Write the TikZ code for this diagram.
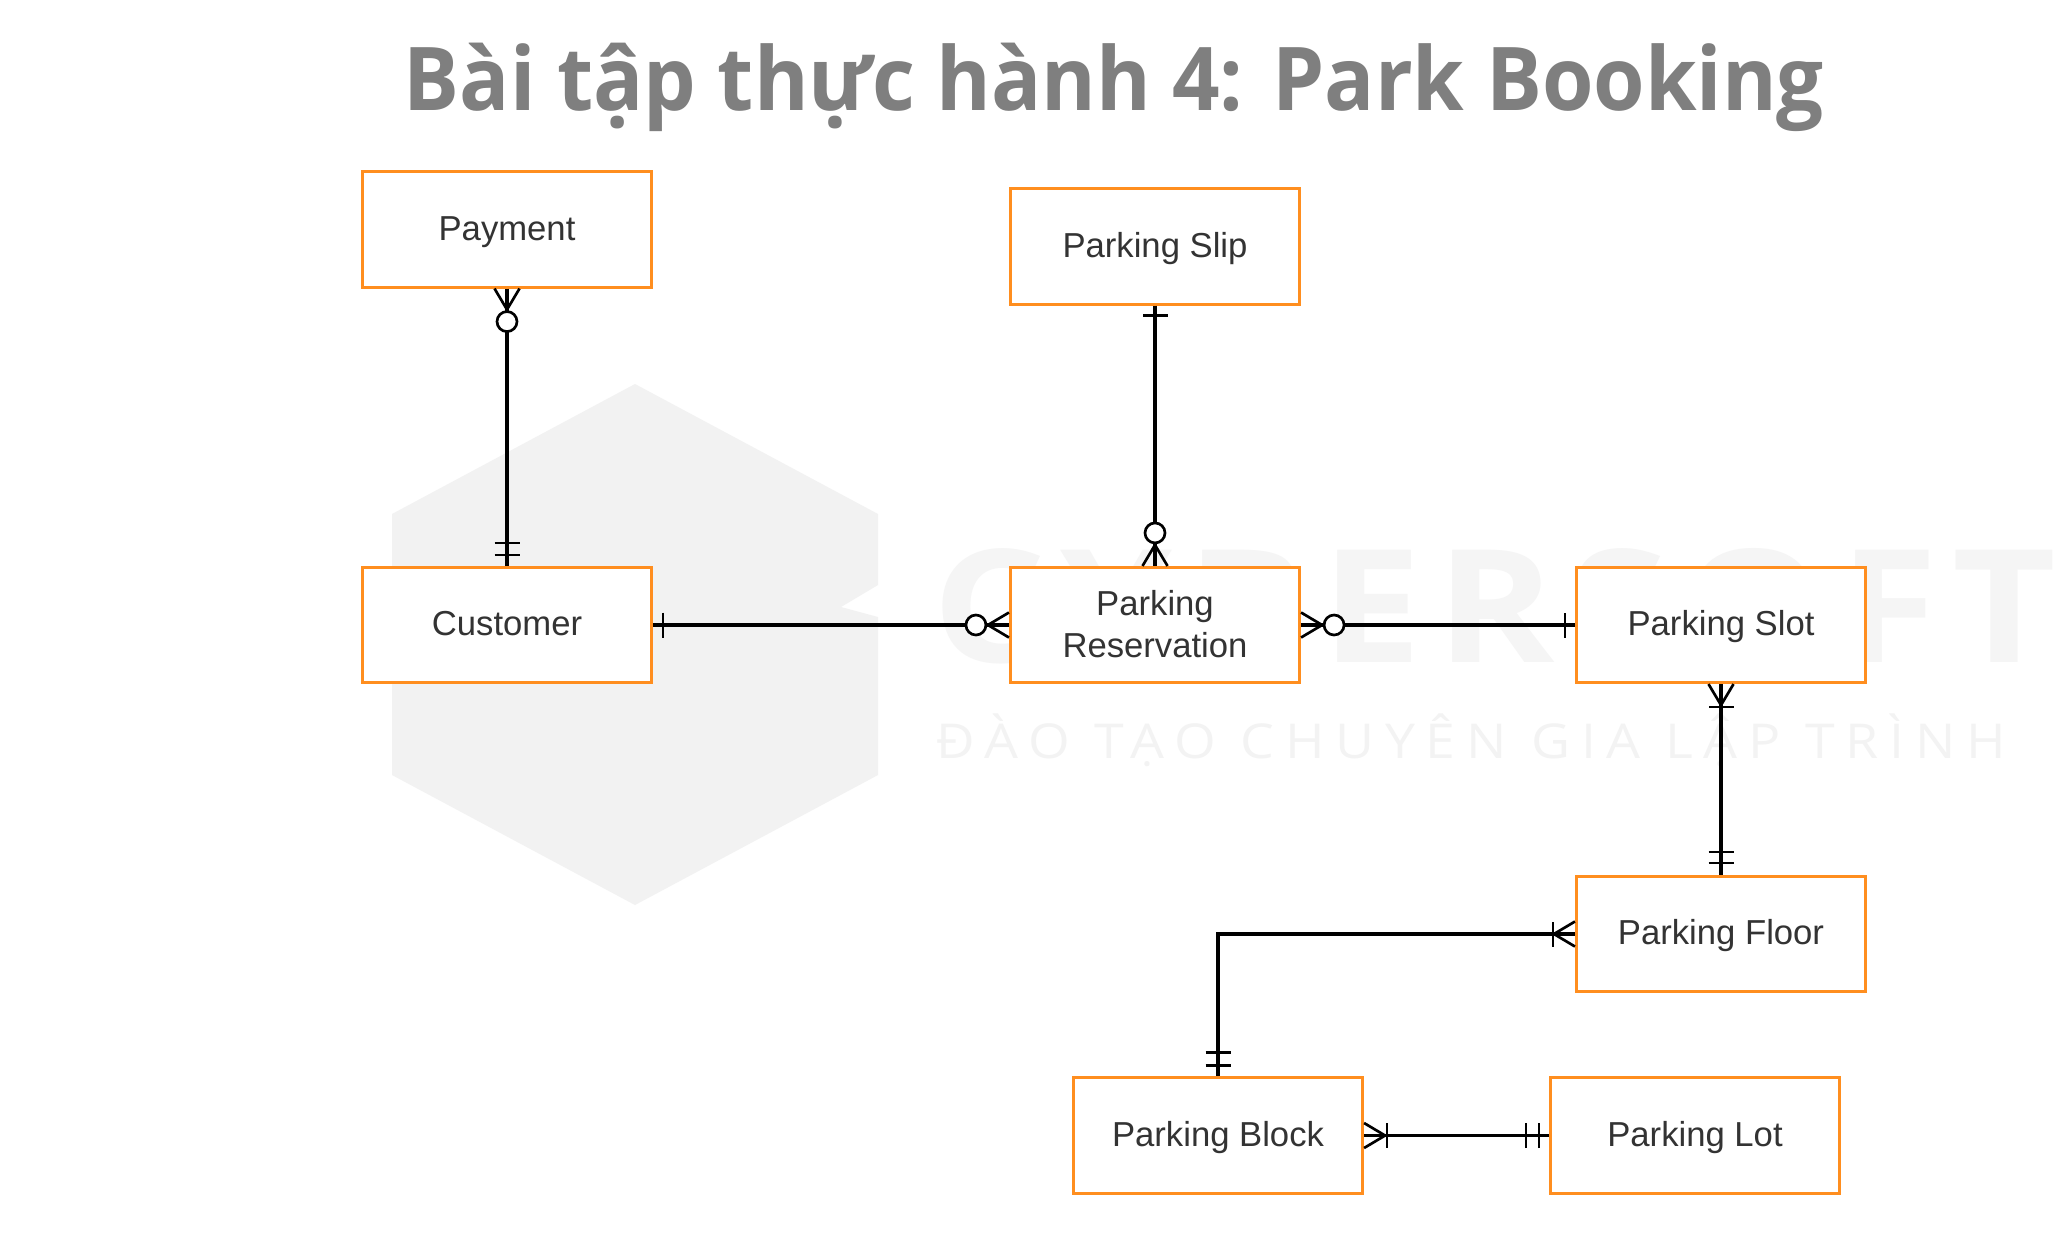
\documentclass[tikz,border=0pt]{standalone}
\usepackage{fontspec}
\usepackage{graphicx}
\setmainfont{Liberation Sans}
\newfontfamily\titlefont[BoldFont=*]{Open Sans Bold}
\newfontfamily\wmbig[LetterSpace=8]{Open Sans Bold}
\newfontfamily\wmsmall[LetterSpace=20]{Open Sans}
\definecolor{boxorange}{HTML}{FF8E1F}
\definecolor{ink}{HTML}{333333}
\definecolor{titlegray}{HTML}{7F7F7F}
\definecolor{wmgray}{HTML}{F2F2F2}
\definecolor{wmtext}{HTML}{F5F5F5}
\definecolor{wmtag}{HTML}{F3F3F3}
\tikzset{
  x=0.75pt,y=-0.75pt,
  ent/.style={draw=boxorange,line width=2.1pt,fill=white,minimum width=217pt,minimum height=86.5pt,inner sep=0pt,align=center,font=\fontsize{26}{31.7}\selectfont,text=ink},
  oneline/.style={text height=20pt,text depth=4pt},
  rel/.style={draw=black,line width=2.4pt},
  relh/.style={draw=black,line width=2.5pt},
  endmark/.style={draw=black,line width=2pt},
  ringmark/.style={draw=black,line width=2pt,fill=white}
}
\newcommand{\crowmark}[2]{\begin{scope}[shift={(#1)},rotate=#2]\draw[endmark] (0,12.5)--(21,0)--(0,-12.5);\end{scope}}
\newcommand{\barmark}[3]{\begin{scope}[shift={(#1)},rotate=#2]\draw[endmark] (#3,-12.5)--(#3,12.5);\end{scope}}
\newcommand{\circmark}[2]{\begin{scope}[shift={(#1)},rotate=#2]\draw[ringmark] (33,0) circle[radius=10];\end{scope}}
\begin{document}
\begin{tikzpicture}
\useasboundingbox (0,0) rectangle (2072,1232);
\fill[white] (0,0) rectangle (2072,1232);
% watermark
\fill[wmgray] (635,384) -- (878,514) -- (878,585) -- (841,607) -- (878,617) -- (878,775) -- (635,905) -- (392,775) -- (392,514) -- cycle;
\node[anchor=base west,inner sep=0pt,text=wmtext] (wmA) at (932,662) {\resizebox{843pt}{\height}{\fontsize{118}{118}\wmbig CYBERSOFT}};
\node[anchor=base west,inner sep=0pt,text=wmtag] (wmB) at (936,758) {\resizebox{802pt}{\height}{\fontsize{36}{36}\wmsmall ĐÀO TẠO CHUYÊN GIA LẬP TRÌNH}};
% title
\node[anchor=base,inner sep=0pt,text=titlegray] (title) at (1114,110) {\resizebox{1065pt}{\height}{\fontsize{66}{66}\titlefont Bài tập thực hành 4: Park Booking}};
% entities
\node[ent,oneline] (pay) at (507,229.5) {Payment};
\node[ent,oneline] (slip) at (1155,246.5) {Parking Slip};
\node[ent,oneline] (cust) at (507,625) {Customer};
\node[ent] (resv) at (1155,625) {Parking\\Reservation\rule[-2pt]{0pt}{1pt}};
\node[ent,oneline] (slot) at (1721,625) {Parking Slot};
\node[ent,oneline] (floor) at (1721,934) {Parking Floor};
\node[ent,oneline] (block) at (1218,1135.5) {Parking Block};
\node[ent,oneline] (lot) at (1695,1135.5) {Parking Lot};
\coordinate (bend) at (floor.west -| block.north);
% connectors
\draw[rel] (pay.south) -- (cust.north);
\draw[rel] (slip.south) -- (resv.north);
\draw[relh] (cust.east) -- (resv.west);
\draw[relh] (resv.east) -- (slot.west);
\draw[rel] (slot.south) -- (floor.north);
\draw[rel,line join=miter] (floor.west) -- (bend) -- (block.north);
\draw[relh] (block.east) -- (lot.west);
% end marks: Payment -- Customer
\crowmark{pay.south}{-90}\circmark{pay.south}{-90}
\barmark{cust.north}{90}{11}\barmark{cust.north}{90}{23}
% Parking Slip -- Reservation
\barmark{slip.south}{-90}{10}
\crowmark{resv.north}{90}\circmark{resv.north}{90}
% Customer -- Reservation
\barmark{cust.east}{0}{10}
\crowmark{resv.west}{180}\circmark{resv.west}{180}
% Reservation -- Slot
\crowmark{resv.east}{0}\circmark{resv.east}{0}
\barmark{slot.west}{180}{10}
% Slot -- Floor
\crowmark{slot.south}{-90}\barmark{slot.south}{-90}{23}
\barmark{floor.north}{90}{12}\barmark{floor.north}{90}{23}
% Floor -- Block
\crowmark{floor.west}{180}\barmark{floor.west}{180}{22}
\barmark{block.north}{90}{11}\barmark{block.north}{90}{24}
% Block -- Lot
\crowmark{block.east}{0}\barmark{block.east}{0}{23}
\barmark{lot.west}{180}{10}\barmark{lot.west}{180}{23}
\end{tikzpicture}
\end{document}
